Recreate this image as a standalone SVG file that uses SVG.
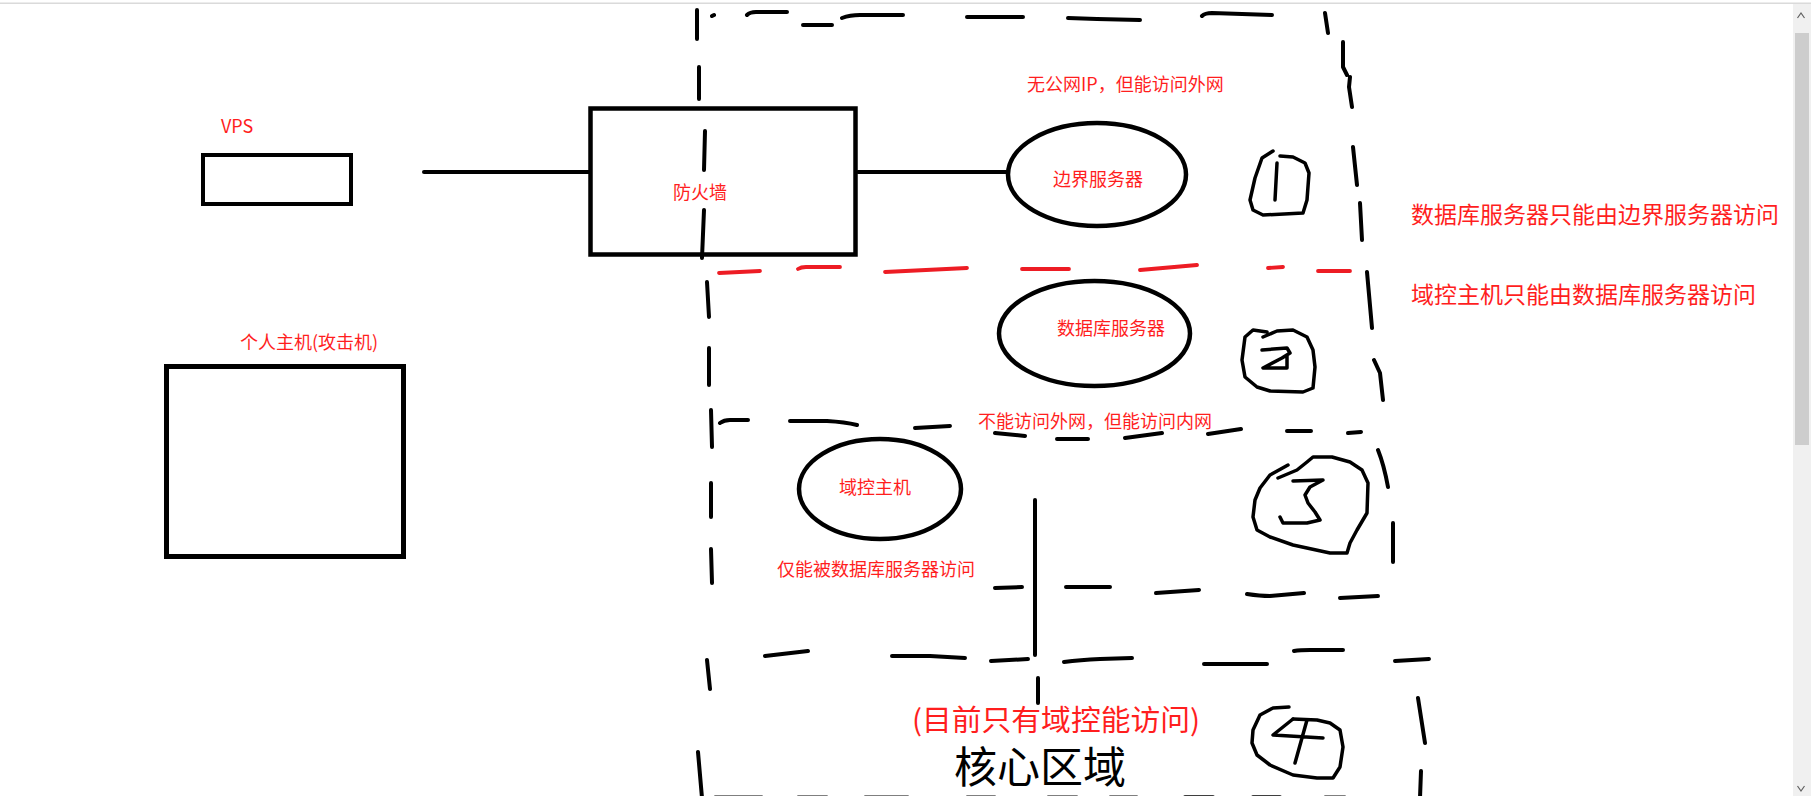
<svg xmlns="http://www.w3.org/2000/svg" width="1811" height="796" viewBox="0 0 1811 796">
<style>
.box{fill:none;stroke:#000;stroke-width:4.5}
.ell{fill:none;stroke:#000;stroke-width:4.5}
.ln{fill:none;stroke:#000;stroke-width:4;stroke-linecap:round}
.d{fill:none;stroke:#000;stroke-width:4;stroke-linecap:round;stroke-linejoin:round}
.rd{fill:none;stroke:#ed1c24;stroke-width:3.8;stroke-linecap:round;stroke-linejoin:round}
.num{fill:none;stroke:#000;stroke-width:3.5;stroke-linecap:round;stroke-linejoin:round}
.t{font-family:"Noto Sans CJK SC","Noto Sans",sans-serif;fill:#ff1e1e;font-size:18px}
.tb{font-family:"Noto Sans CJK SC","Noto Sans",sans-serif;fill:#ff1e1e;font-size:23px}
.big{font-family:"Noto Sans CJK SC","Noto Sans",sans-serif;fill:#000;font-size:43px}
</style>
<rect x="0" y="0" width="1811" height="796" fill="#fff"/>
<rect x="0" y="2.5" width="1811" height="1.5" fill="#dadada"/>

<g id="zones">
<path class="d" d="M697,10 L697,39 M699,67 L699,99 M705,131 L704,170 M704,210 L702,258 M707,282 L709,317 M709,348 L709,385 M711,410 L712,447 M711,483 L711,517 M711,549 L712,583 M707,660 L710,689 M698,752 L702,798"/>
<path class="d" d="M712,16 L714,15 M747,15 Q750,12 756,12 L787,12 M803,25 L832,25 M842,18 Q850,15 860,15 L903,15 M967,17 L1023,17 M1068,18 L1097,19 L1140,20 M1202,16 Q1205,13 1212,13 L1272,15"/>
<path class="d" d="M1325,13 L1328,33 M1343,42 L1343,67 L1347,75 M1350,77 L1349,87 L1352,107 M1353,147 L1357,185 M1360,203 L1362,240 M1367,272 L1372,328 M1374,360 L1380,373 L1383,400"/>
<path class="d" d="M720,423 Q724,420 730,420 L748,420 M790,421 L827,421 Q845,422 857,425 M915,428 L950,426 M995,433 L1025,436 M1057,439 L1088,439 M1125,438 L1162,433 M1208,434 L1241,429 M1287,431 L1311,431 M1348,433 L1361,432"/>
<path class="d" d="M1378,450 Q1384,465 1388,487 M1393,523 L1393,562"/>
<path class="d" d="M995,588 L1022,587 M1066,587 L1110,587 M1156,593 L1199,590 M1247,594 Q1260,596 1270,596 L1304,593 M1340,598 L1378,596"/>
<path class="d" d="M765,656 L808,651 M892,656 L930,656 L965,658 M991,661 L1028,659 M1064,662 Q1080,660 1100,659 L1132,658 M1204,664 L1267,664 M1294,651 Q1300,650 1310,650 L1343,650 M1395,661 L1429,659"/>
<path class="d" d="M1418,698 L1425,743 M1421,771 L1420,798"/>
<path class="d" d="M715,797.6 L762,797.6 M798,797.6 L827,797.6 M865,797.6 L908,797.6 M967,797.6 L995,797.6 M1048,797.6 L1077,797.6 M1110,797.6 L1137,797.6 M1185,797.3 L1213,797.3 M1253,797.3 L1280,797.3 M1325,797.6 L1345,797.6"/>
<path class="rd" d="M719,273 L760,271 M798,269 Q801,267 806,267 L840,267 M885,272 L967,268 M1022,269 L1069,269 M1140,270 L1197,265 M1268,268 L1283,267 M1318,271 L1350,271"/>
</g>

<g id="connectors">
<path class="ln" d="M424,172 L590,172"/>
<path class="ln" d="M858,172 L1006,172"/>
<path class="ln" d="M1035,500 L1035,655"/>
<path class="ln" d="M1038,678 L1038,703"/>
</g>

<g id="vps">
<text class="t" x="221" y="133">VPS</text>
<rect class="box" x="203" y="155" width="148" height="49" style="stroke-width:4"/>
</g>

<g id="firewall">
<rect class="box" x="590.5" y="108.5" width="265" height="146"/>
<text class="t" x="673" y="199">防火墙</text>
</g>

<g id="personal-host">
<text class="t" x="240" y="349">个人主机(攻击机)</text>
<rect class="box" x="166.5" y="366.5" width="237" height="190" style="stroke-width:5"/>
</g>

<g id="edge-server">
<text class="t" x="1027" y="91">无公网IP，但能访问外网</text>
<ellipse class="ell" cx="1097" cy="174.5" rx="89" ry="51.5"/>
<text class="t" x="1053" y="186">边界服务器</text>
</g>

<g id="db-server">
<ellipse class="ell" cx="1094.5" cy="333.5" rx="95.5" ry="52.5"/>
<text class="t" x="1057" y="335">数据库服务器</text>
<text class="t" x="978" y="428">不能访问外网，但能访问内网</text>
</g>

<g id="dc-host">
<ellipse class="ell" cx="880" cy="489" rx="81" ry="50"/>
<text class="t" x="839" y="494">域控主机</text>
<text class="t" x="777" y="576">仅能被数据库服务器访问</text>
</g>

<g id="core">
<text class="t" x="912" y="731" style="font-size:29px" textLength="288" lengthAdjust="spacingAndGlyphs">(目前只有域控能访问)</text>
<text class="big" x="954" y="783">核心区域</text>
</g>

<g id="notes">
<text class="tb" x="1411" y="223">数据库服务器只能由边界服务器访问</text>
<text class="tb" x="1411" y="303">域控主机只能由数据库服务器访问</text>
</g>

<g id="num1">
<path class="num" d="M1273,151 L1262,158 L1255,178 L1250,200 L1253,210 L1263,215 L1303,213 L1307,200 L1309,173 L1305,163 L1293,157 L1280,156"/>
<path class="num" d="M1277,163 L1275,200"/>
</g>
<g id="num2">
<path class="num" d="M1267,332 L1253,330 L1245,337 L1242,360 L1245,377 L1257,387 L1270,391 L1303,392 L1313,388 L1315,367 L1313,350 L1307,337 L1293,330 L1277,331 L1263,337"/>
<path class="num" d="M1262,350 L1287,348 L1290,353 L1282,358 L1263,368 L1287,368 L1287,356"/>
</g>
<g id="num3">
<path class="num" d="M1288,465 L1270,475 L1260,488 L1255,500 L1253,517 L1257,530 L1270,537 L1293,545 L1330,553 L1347,553 L1350,543 L1357,530 L1367,513 L1368,483 L1362,470 L1350,462 L1332,457 L1313,457 L1307,462 L1297,470 L1278,478"/>
<path class="num" d="M1293,481 L1323,480 L1310,487 L1305,495 L1308,503 L1315,512 L1320,520 L1307,523 L1283,523 L1280,517"/>
</g>
<g id="num4">
<path class="num" d="M1289,707 L1273,708 L1260,715 L1253,730 L1252,743 L1257,755 L1270,765 L1293,775 L1317,778 L1333,778 L1340,767 L1343,747 L1340,730 L1330,723 L1317,720 L1293,719"/>
<path class="num" d="M1293,719 L1273,735 L1323,738 M1307,720 L1295,763"/>
</g>

<g id="scrollbar">
<rect x="1793" y="4" width="18" height="792" fill="#f0f0f0"/>
<rect x="1795" y="33" width="14" height="412" fill="#cdcdcd"/>
<path d="M1797.5,18 L1801,13 L1804.5,18" fill="none" stroke="#606060" stroke-width="1.2"/>
<path d="M1797.5,786 L1801,791 L1804.5,786" fill="none" stroke="#606060" stroke-width="1.2"/>
</g>
</svg>
